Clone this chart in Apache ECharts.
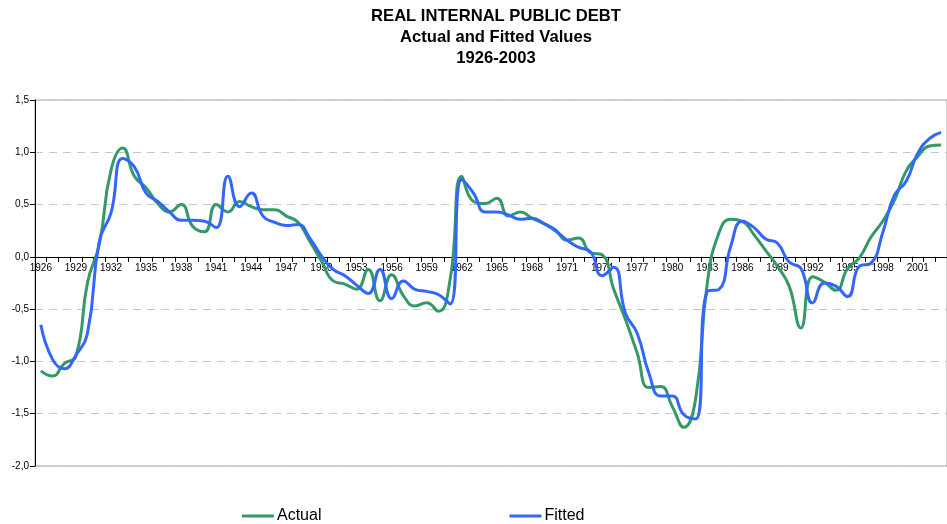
<!DOCTYPE html>
<html>
<head>
<meta charset="utf-8">
<script src="https://cdn.jsdelivr.net/npm/echarts@6/dist/echarts.min.js"></script>
<style>
html,body{margin:0;padding:0;background:#fff;}
#chart{width:947px;height:524px;}
</style>
</head>
<body>
<div id="chart"></div>
<script>
const years = [];
for (let y = 1926; y <= 2003; y++) years.push(String(y));

const actual = [
 -1.09, -1.14, -1.02, -0.95, -0.24, 0.12, 0.83, 1.04, 0.77, 0.66,
  0.51, 0.43, 0.50, 0.29, 0.24, 0.50, 0.43, 0.53, 0.48, 0.45,
  0.45, 0.39, 0.33, 0.15, -0.04, -0.23, -0.26, -0.31, -0.12, -0.42,
 -0.17, -0.37, -0.47, -0.44, -0.52, -0.22, 0.77, 0.53, 0.51, 0.56,
  0.39, 0.43, 0.37, 0.32, 0.26, 0.16, 0.18, 0.04, 0.02, -0.31,
 -0.60, -0.92, -1.25, -1.24, -1.43, -1.63, -1.36, -0.25, 0.23, 0.36,
  0.34, 0.21, 0.06, -0.09, -0.28, -0.68, -0.19, -0.24, -0.32, -0.11,
 -0.01, 0.19, 0.34, 0.54, 0.82, 0.96, 1.06, 1.07
];

const fitted = [
 -0.65, -0.98, -1.07, -0.94, -0.72, 0.15, 0.42, 0.94, 0.86, 0.61,
  0.53, 0.43, 0.35, 0.35, 0.34, 0.28, 0.77, 0.48, 0.61, 0.39,
  0.33, 0.30, 0.31, 0.18, 0.01, -0.12, -0.18, -0.27, -0.35, -0.12,
 -0.40, -0.23, -0.31, -0.33, -0.36, -0.45, 0.74, 0.61, 0.43, 0.43,
  0.40, 0.36, 0.37, 0.32, 0.25, 0.16, 0.09, 0.05, -0.18, -0.10,
 -0.54, -0.73, -1.11, -1.33, -1.33, -1.51, -1.55, -0.33, -0.31, 0.10,
  0.34, 0.28, 0.17, 0.13, -0.05, -0.11, -0.44, -0.25, -0.28, -0.38,
 -0.09, -0.06, 0.23, 0.59, 0.72, 0.99, 1.13, 1.19
];

const titleLines = ['REAL INTERNAL PUBLIC DEBT', 'Actual and Fitted Values', '1926-2003'];
const seriesNames = ['Actual', 'Fitted'];
const colors = ['#339966', '#3366FF'];

const yMin = -2, yMax = 1.5;
const gridTop = 100, gridBottom = 58, chartH = 524;
const plotH = chartH - gridTop - gridBottom;
// x axis sits on the zero line
const xAxisOffset = -plotH * (0 - yMin) / (yMax - yMin);

const chart = echarts.init(document.getElementById('chart'), null, {renderer: 'canvas'});
chart.setOption({
  animation: false,
  backgroundColor: '#ffffff',
  textStyle: {fontFamily: 'Arial, "Liberation Sans", sans-serif'},
  title: {
    text: titleLines.join('\n'),
    left: 491,
    top: 1,
    textAlign: 'center',
    textStyle: {fontSize: 16.6, fontWeight: 'bold', color: '#000', lineHeight: 21, fontFamily: 'Arial, "Liberation Sans", sans-serif'}
  },
  legend: {
    data: seriesNames.map((n, i) => ({name: n, icon: 'rect', itemStyle: {color: colors[i]}})),
    left: 237,
    top: 503,
    itemWidth: 32,
    itemHeight: 3,
    itemGap: 188,
    textStyle: {fontSize: 16, color: '#000', padding: [0, 0, 0, -2]}
  },
  grid: {
    left: 35, right: -8, top: gridTop, bottom: gridBottom,
    show: true, borderColor: '#a0a0a0', borderWidth: 1, backgroundColor: 'transparent',
    containLabel: false
  },
  xAxis: {
    type: 'category',
    data: years,
    boundaryGap: true,
    position: 'bottom',
    offset: xAxisOffset,
    axisLine: {show: true, onZero: false, lineStyle: {color: '#000', width: 1}},
    axisTick: {show: true, interval: 0, length: 5, lineStyle: {color: '#000'}},
    axisLabel: {interval: 2, fontSize: 10, color: '#000', margin: 6},
    splitLine: {show: false}
  },
  yAxis: {
    type: 'value',
    min: yMin, max: yMax, interval: 0.5,
    axisLine: {show: true, onZero: false, lineStyle: {color: '#000', width: 1}},
    axisTick: {show: true, length: 5, lineStyle: {color: '#000'}},
    axisLabel: {fontSize: 10, color: '#000', margin: 6, formatter: v => v.toFixed(1).replace('.', ',')},
    splitLine: {show: true, lineStyle: {color: '#c8c8c8', type: [8, 6], width: 1}}
  },
  series: [
    {name: seriesNames[0], type: 'line', data: actual, smooth: 0.5, showSymbol: false, symbol: 'none',
     lineStyle: {color: colors[0], width: 3}, itemStyle: {color: colors[0]}},
    {name: seriesNames[1], type: 'line', data: fitted, smooth: 0.5, showSymbol: false, symbol: 'none',
     lineStyle: {color: colors[1], width: 3}, itemStyle: {color: colors[1]}}
  ]
});
</script>
</body>
</html>
